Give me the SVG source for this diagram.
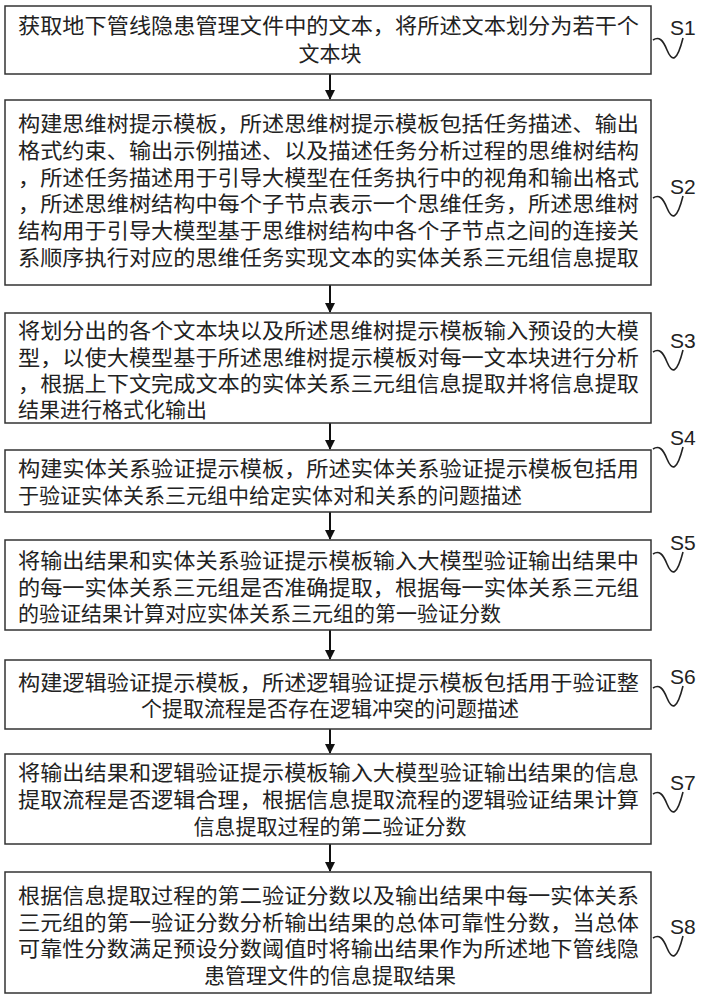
<svg xmlns="http://www.w3.org/2000/svg" width="705" height="1000" viewBox="0 0 705 1000">
<style>
.box{fill:#fff;stroke:#333;stroke-width:1.5}
text{font-family:"Noto Sans CJK SC","Liberation Sans",sans-serif;font-size:21px;fill:#222}
.c{text-anchor:middle}
.lbl{font-family:"Liberation Sans",sans-serif;font-size:21px}
.sq{fill:none;stroke:#222;stroke-width:1.6}
.ln{stroke:#111;stroke-width:2}
</style>
<defs><marker id="a" markerWidth="10" markerHeight="10" refX="9" refY="5" orient="auto" markerUnits="userSpaceOnUse"><path d="M0,0L10,5L0,10z" fill="#111"/></marker></defs>
<rect width="705" height="1000" fill="#fff"/>
<g id="connectors">
<line class="ln" x1="330" y1="74" x2="330" y2="99" marker-end="url(#a)"/>
<line class="ln" x1="330" y1="285" x2="330" y2="312" marker-end="url(#a)"/>
<line class="ln" x1="330" y1="423" x2="330" y2="449" marker-end="url(#a)"/>
<line class="ln" x1="330" y1="512" x2="330" y2="539" marker-end="url(#a)"/>
<line class="ln" x1="330" y1="630" x2="330" y2="659" marker-end="url(#a)"/>
<line class="ln" x1="330" y1="729" x2="330" y2="753" marker-end="url(#a)"/>
<line class="ln" x1="330" y1="844" x2="330" y2="871" marker-end="url(#a)"/>
</g>
<g id="S1"><rect class="box" x="5" y="6" width="646" height="68"/>
<text x="18" y="33" textLength="621" lengthAdjust="spacingAndGlyphs">获取地下管线隐患管理文件中的文本，将所述文本划分为若干个</text>
<text class="c" x="330" y="61">文本块</text>
<path class="sq" d="M653,40 c6,-4 10,0 14,10 c5,12 10,12 16,-12"/><text class="lbl" x="670" y="35">S1</text></g>
<g id="S2"><rect class="box" x="5" y="100" width="646" height="185"/>
<text x="18" y="131" textLength="621" lengthAdjust="spacingAndGlyphs">构建思维树提示模板，所述思维树提示模板包括任务描述、输出</text>
<text x="18" y="158" textLength="621" lengthAdjust="spacingAndGlyphs">格式约束、输出示例描述、以及描述任务分析过程的思维树结构</text>
<text x="18" y="185" textLength="621" lengthAdjust="spacingAndGlyphs">，所述任务描述用于引导大模型在任务执行中的视角和输出格式</text>
<text x="18" y="211" textLength="621" lengthAdjust="spacingAndGlyphs">，所述思维树结构中每个子节点表示一个思维任务，所述思维树</text>
<text x="18" y="238" textLength="621" lengthAdjust="spacingAndGlyphs">结构用于引导大模型基于思维树结构中各个子节点之间的连接关</text>
<text x="18" y="265" textLength="621" lengthAdjust="spacingAndGlyphs">系顺序执行对应的思维任务实现文本的实体关系三元组信息提取</text>
<path class="sq" d="M653,198 c6,-4 10,0 14,10 c5,12 10,12 16,-12"/><text class="lbl" x="670" y="194">S2</text></g>
<g id="S3"><rect class="box" x="5" y="313" width="646" height="110"/>
<text x="18" y="338" textLength="621" lengthAdjust="spacingAndGlyphs">将划分出的各个文本块以及所述思维树提示模板输入预设的大模</text>
<text x="18" y="365" textLength="621" lengthAdjust="spacingAndGlyphs">型，以使大模型基于所述思维树提示模板对每一文本块进行分析</text>
<text x="18" y="391" textLength="621" lengthAdjust="spacingAndGlyphs">，根据上下文完成文本的实体关系三元组信息提取并将信息提取</text>
<text x="18" y="417">结果进行格式化输出</text>
<path class="sq" d="M653,352 c6,-4 10,0 14,10 c5,12 10,12 16,-12"/><text class="lbl" x="670" y="348">S3</text></g>
<g id="S4"><rect class="box" x="5" y="450" width="646" height="62"/>
<text x="18" y="476" textLength="621" lengthAdjust="spacingAndGlyphs">构建实体关系验证提示模板，所述实体关系验证提示模板包括用</text>
<text x="18" y="503">于验证实体关系三元组中给定实体对和关系的问题描述</text>
<path class="sq" d="M653,449 c6,-4 10,0 14,10 c5,12 10,12 16,-12"/><text class="lbl" x="670" y="445">S4</text></g>
<g id="S5"><rect class="box" x="5" y="540" width="646" height="90"/>
<text x="18" y="568" textLength="621" lengthAdjust="spacingAndGlyphs">将输出结果和实体关系验证提示模板输入大模型验证输出结果中</text>
<text x="18" y="595" textLength="621" lengthAdjust="spacingAndGlyphs">的每一实体关系三元组是否准确提取，根据每一实体关系三元组</text>
<text x="18" y="621">的验证结果计算对应实体关系三元组的第一验证分数</text>
<path class="sq" d="M653,554 c6,-4 10,0 14,10 c5,12 10,12 16,-12"/><text class="lbl" x="670" y="550">S5</text></g>
<g id="S6"><rect class="box" x="5" y="660" width="646" height="69"/>
<text x="18" y="690" textLength="621" lengthAdjust="spacingAndGlyphs">构建逻辑验证提示模板，所述逻辑验证提示模板包括用于验证整</text>
<text class="c" x="330" y="716">个提取流程是否存在逻辑冲突的问题描述</text>
<path class="sq" d="M653,688 c6,-4 10,0 14,10 c5,12 10,12 16,-12"/><text class="lbl" x="670" y="684">S6</text></g>
<g id="S7"><rect class="box" x="5" y="754" width="646" height="90"/>
<text x="18" y="780" textLength="621" lengthAdjust="spacingAndGlyphs">将输出结果和逻辑验证提示模板输入大模型验证输出结果的信息</text>
<text x="18" y="807" textLength="621" lengthAdjust="spacingAndGlyphs">提取流程是否逻辑合理，根据信息提取流程的逻辑验证结果计算</text>
<text class="c" x="330" y="834">信息提取过程的第二验证分数</text>
<path class="sq" d="M653,794 c6,-4 10,0 14,10 c5,12 10,12 16,-12"/><text class="lbl" x="670" y="790">S7</text></g>
<g id="S8"><rect class="box" x="5" y="872" width="646" height="121"/>
<text x="18" y="903" textLength="621" lengthAdjust="spacingAndGlyphs">根据信息提取过程的第二验证分数以及输出结果中每一实体关系</text>
<text x="18" y="930" textLength="621" lengthAdjust="spacingAndGlyphs">三元组的第一验证分数分析输出结果的总体可靠性分数，当总体</text>
<text x="18" y="956" textLength="621" lengthAdjust="spacingAndGlyphs">可靠性分数满足预设分数阈值时将输出结果作为所述地下管线隐</text>
<text class="c" x="330" y="983">患管理文件的信息提取结果</text>
<path class="sq" d="M653,938 c6,-4 10,0 14,10 c5,12 10,12 16,-12"/><text class="lbl" x="670" y="934">S8</text></g>
</svg>
